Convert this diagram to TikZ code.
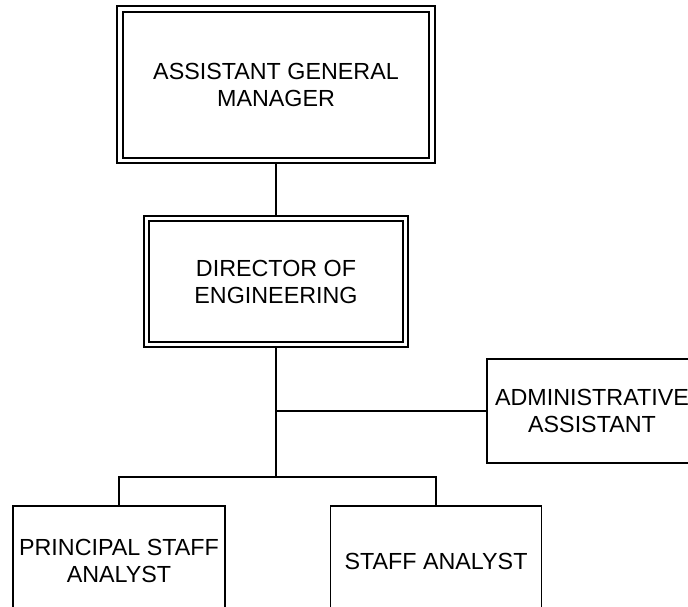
\documentclass[tikz,border=0pt]{standalone}
\usepackage{fontspec}
\setmainfont{Liberation Sans}
\begin{document}
\begin{tikzpicture}[x=1pt,y=-1pt,
  box/.style={draw, line width=1.8pt, inner sep=0pt, outer sep=0.9pt, align=center,
    font=\fontsize{23.3}{27}\selectfont, rectangle},
  dbox/.style={box, double, double distance=3.7pt, outer sep=2.7pt},
  conn/.style={line width=1.8pt}]
\useasboundingbox (0,0) rectangle (688,607);
\node[dbox, minimum width=312pt, minimum height=151.5pt] (agm) at (276,84.75) {ASSISTANT GENERAL\\MANAGER};
\node[dbox, minimum width=259pt, minimum height=126pt] (dir) at (276,281.5) {DIRECTOR OF\\ENGINEERING};
\node[box, minimum width=210pt, minimum height=104pt] (adm) at (592,411) {ADMINISTRATIVE\\ASSISTANT};
\node[box, minimum width=212pt, minimum height=110pt] (psa) at (119,561) {PRINCIPAL STAFF\\ANALYST};
\node[box, minimum width=211pt, minimum height=110pt] (sa) at (436,561) {STAFF ANALYST};
\coordinate (j1) at (276,411);
\coordinate (bus) at (276,477);
\draw[conn] (agm.south) -- (dir.north);
\draw[conn] (dir.south) -- (bus);
\draw[conn] (j1) -- (adm.west);
\draw[conn] (psa.north) |- (bus) -| (sa.north);
\end{tikzpicture}
\end{document}
